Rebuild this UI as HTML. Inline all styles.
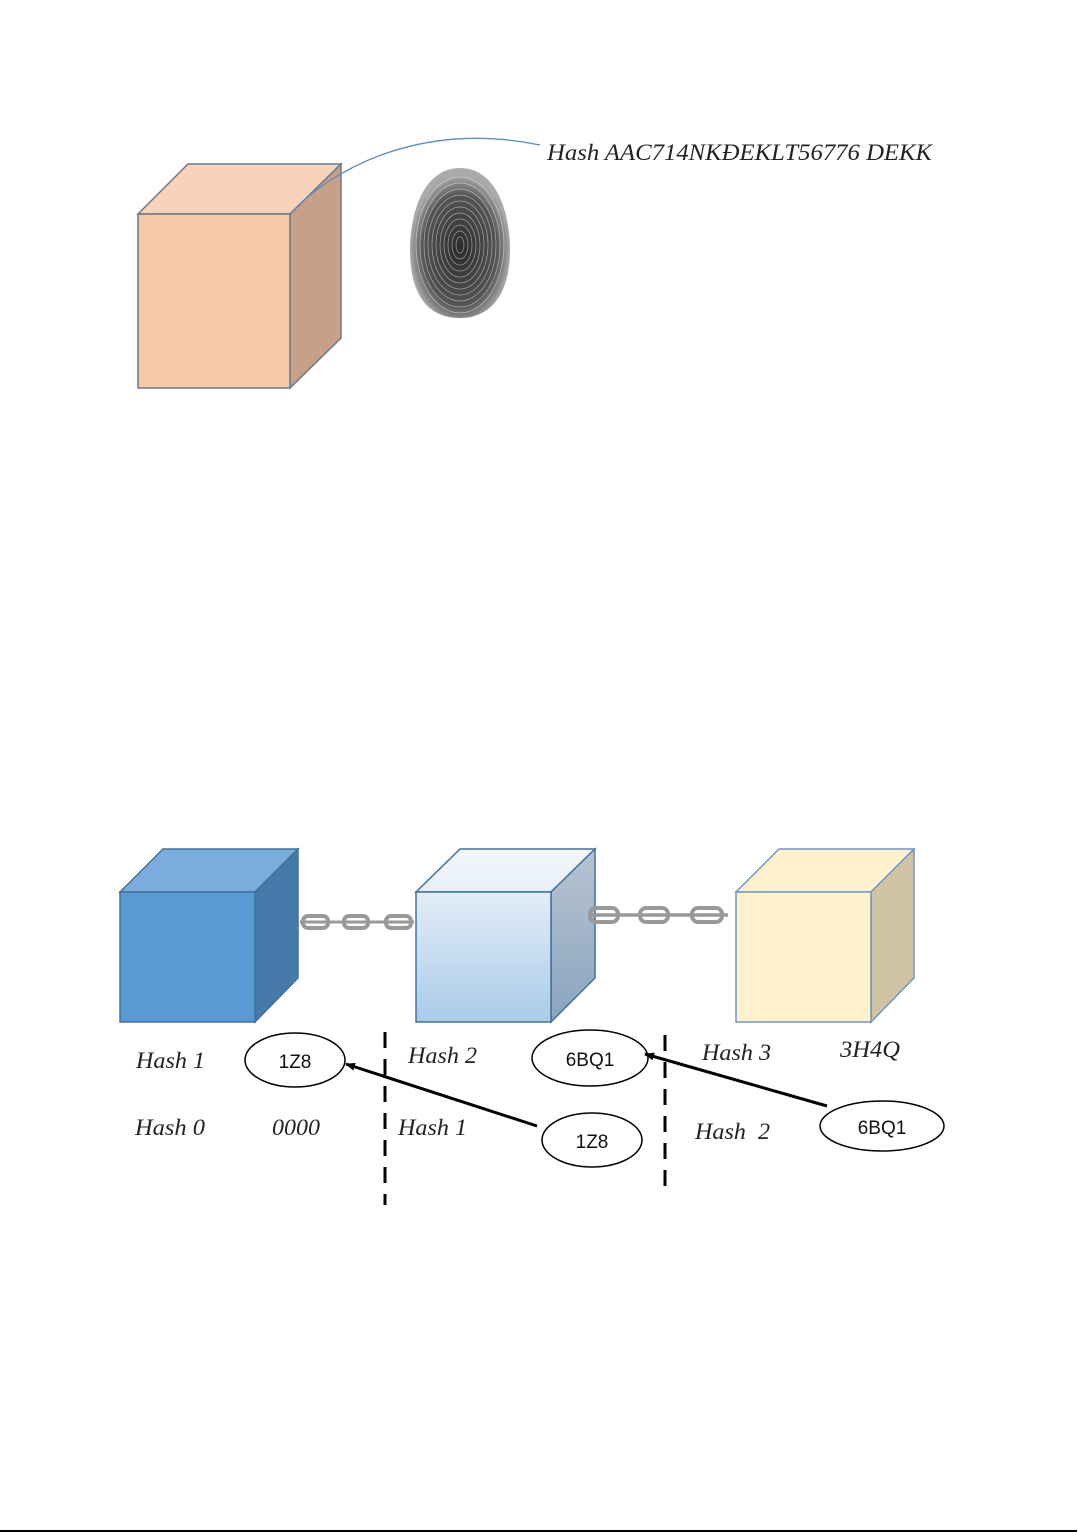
<!DOCTYPE html>
<html><head><meta charset="utf-8"><style>
html,body{margin:0;padding:0;background:#fff;}
svg{display:block;}
text{font-family:"Liberation Serif",serif;font-style:italic;fill:#222;}
.s{font-family:"Liberation Sans",sans-serif;font-style:normal;fill:#111;}
</style></head><body>
<svg width="1078" height="1532" viewBox="0 0 1078 1532" xmlns="http://www.w3.org/2000/svg">
<defs>
<linearGradient id="lb" x1="0" y1="0" x2="0" y2="1"><stop offset="0" stop-color="#e3edf8"/><stop offset="1" stop-color="#a9cbe9"/></linearGradient>
<linearGradient id="lbs" x1="0" y1="0" x2="0" y2="1"><stop offset="0" stop-color="#b8c4d0"/><stop offset="1" stop-color="#8aa4bf"/></linearGradient>
<linearGradient id="lbt" x1="0" y1="0" x2="0" y2="1"><stop offset="0" stop-color="#f4f8fc"/><stop offset="1" stop-color="#e6eef8"/></linearGradient>
<radialGradient id="fp" cx="0.5" cy="0.55" r="0.5"><stop offset="0" stop-color="#2a2a2a"/><stop offset="0.75" stop-color="#555"/><stop offset="1" stop-color="#aaa"/></radialGradient>
<marker id="ah" markerWidth="10" markerHeight="8" refX="9" refY="4" orient="auto" markerUnits="userSpaceOnUse"><path d="M0,0 L10,4 L0,8 z" fill="#000"/></marker>
</defs>

<!-- peach cube -->
<polygon points="138,214 188,164 341,164 290,214" fill="#f7d3b9" stroke="#6a7890" stroke-width="1.5"/>
<polygon points="290,214 341,164 341,338 290,388" fill="#c8a087" stroke="#6a7890" stroke-width="1.5"/>
<rect x="138" y="214" width="152" height="174" fill="#f6c8aa" stroke="#6a7890" stroke-width="1.5"/>
<path d="M290,214 C 330,170 420,120 540,145" fill="none" stroke="#5b8bc0" stroke-width="1.3"/>

<!-- fingerprint -->
<path d="M460,168 C 495,168 510,210 510,250 C 510,295 490,318 460,318 C 428,318 410,295 410,250 C 410,210 425,168 460,168 Z" fill="url(#fp)"/>
<g fill="none" stroke="#fff" stroke-width="0.7" opacity="0.5">
<ellipse cx="460" cy="245" rx="44" ry="68"/><ellipse cx="460" cy="245" rx="40" ry="62"/><ellipse cx="460" cy="245" rx="36" ry="56"/><ellipse cx="460" cy="245" rx="32" ry="50"/><ellipse cx="460" cy="245" rx="28" ry="44"/><ellipse cx="460" cy="245" rx="24" ry="38"/><ellipse cx="460" cy="245" rx="20" ry="32"/><ellipse cx="460" cy="245" rx="16" ry="26"/><ellipse cx="460" cy="245" rx="12" ry="20"/><ellipse cx="460" cy="245" rx="8" ry="14"/><ellipse cx="460" cy="245" rx="4" ry="8"/>
</g>
<text x="547" y="160" font-size="23" textLength="385" lengthAdjust="spacingAndGlyphs">Hash AAC714NKĐEKLT56776 DEKK</text>

<!-- blue cube -->
<polygon points="120,892 163,849 298,849 255,892" fill="#7aacdc" stroke="#41719c" stroke-width="1.5"/>
<polygon points="255,892 298,849 298,978 255,1022" fill="#467aab" stroke="#41719c" stroke-width="1.5"/>
<rect x="120" y="892" width="135" height="130" fill="#5b9bd5" stroke="#41719c" stroke-width="1.5"/>

<!-- light blue cube -->
<polygon points="416,892 460,849 595,849 551,892" fill="url(#lbt)" stroke="#41719c" stroke-width="1.5"/>
<polygon points="551,892 595,849 595,978 551,1022" fill="url(#lbs)" stroke="#41719c" stroke-width="1.5"/>
<rect x="416" y="892" width="135" height="130" fill="url(#lb)" stroke="#41719c" stroke-width="1.5"/>

<!-- yellow cube -->
<polygon points="736,892 779,849 914,849 871,892" fill="#fff2cc" stroke="#6e96c6" stroke-width="1.5"/>
<polygon points="871,892 914,849 914,978 871,1022" fill="#cfc3a3" stroke="#6e96c6" stroke-width="1.5"/>
<rect x="736" y="892" width="135" height="130" fill="#fff2cc" stroke="#6e96c6" stroke-width="1.5"/>

<!-- chains -->
<g fill="none" stroke="#999" stroke-width="4">
<line x1="300" y1="922" x2="414" y2="922" stroke-width="3"/>
<rect x="303" y="916" width="25" height="12" rx="5"/><rect x="344" y="916" width="24" height="12" rx="5"/><rect x="386" y="916" width="25" height="12" rx="5"/>
<line x1="588" y1="915" x2="728" y2="915" stroke-width="3.5"/>
<rect x="590" y="908" width="28" height="14" rx="6"/><rect x="640" y="908" width="28" height="14" rx="6"/><rect x="692" y="908" width="30" height="14" rx="6"/>
</g>

<!-- dashed lines -->
<line x1="385" y1="1032" x2="385" y2="1205" stroke="#000" stroke-width="3" stroke-dasharray="16,11"/>
<line x1="665" y1="1035" x2="665" y2="1188" stroke="#000" stroke-width="3" stroke-dasharray="16,11"/>

<!-- ellipses -->
<g fill="#fff" stroke="#000" stroke-width="1.5">
<ellipse cx="295" cy="1060" rx="50" ry="27"/>
<ellipse cx="590" cy="1058" rx="58" ry="28"/>
<ellipse cx="592" cy="1140" rx="50" ry="27"/>
<ellipse cx="882" cy="1126" rx="62" ry="25"/>
</g>
<text class="s" x="295" y="1068" font-size="19" text-anchor="middle">1Z8</text>
<text class="s" x="590" y="1066" font-size="19" text-anchor="middle">6BQ1</text>
<text class="s" x="592" y="1148" font-size="19" text-anchor="middle">1Z8</text>
<text class="s" x="882" y="1134" font-size="19" text-anchor="middle">6BQ1</text>

<!-- arrows -->
<line x1="537" y1="1126" x2="346" y2="1064" stroke="#000" stroke-width="3" marker-end="url(#ah)"/>
<line x1="827" y1="1106" x2="645" y2="1054" stroke="#000" stroke-width="3" marker-end="url(#ah)"/>

<!-- labels -->
<text x="136" y="1068" font-size="23" textLength="69" lengthAdjust="spacingAndGlyphs">Hash 1</text>
<text x="135" y="1135" font-size="23" textLength="70" lengthAdjust="spacingAndGlyphs">Hash 0</text>
<text x="272" y="1135" font-size="23" textLength="48" lengthAdjust="spacingAndGlyphs">0000</text>
<text x="408" y="1063" font-size="23" textLength="69" lengthAdjust="spacingAndGlyphs">Hash 2</text>
<text x="398" y="1135" font-size="23" textLength="69" lengthAdjust="spacingAndGlyphs">Hash 1</text>
<text x="702" y="1060" font-size="23" textLength="69" lengthAdjust="spacingAndGlyphs">Hash 3</text>
<text x="840" y="1057" font-size="23" textLength="60" lengthAdjust="spacingAndGlyphs">3H4Q</text>
<text x="695" y="1139" font-size="23" textLength="75" lengthAdjust="spacingAndGlyphs">Hash&#160; 2</text>

<line x1="0" y1="1531" x2="1077" y2="1531" stroke="#000" stroke-width="2"/>
</svg>
</body></html>
